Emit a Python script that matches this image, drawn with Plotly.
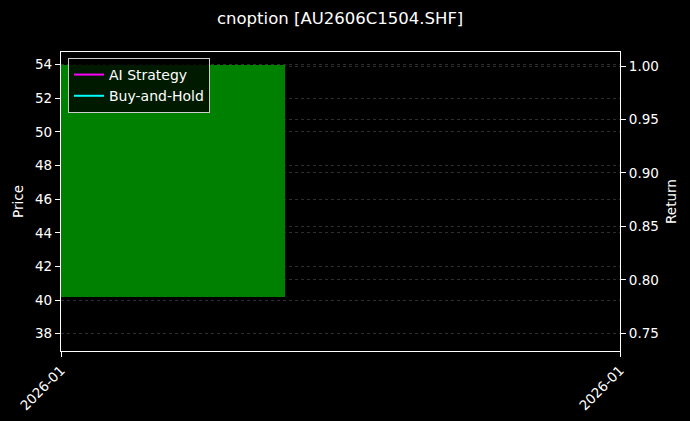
import plotly.graph_objects as go
import pandas as pd

# Data
dates = ["2026-01-05"]
open_price = [40.2]
close_price = [54.0]
ai_strategy = [1.0]
buy_hold = [1.0]
x_tick_labels = ["2026-01", "2026-01"]

title = "cnoption [AU2606C1504.SHF]"

day_ms = 86400000
bar_width = 0.8 * day_ms
center = pd.Timestamp(dates[0])
x_left = center - pd.Timedelta(hours=0.4 * 24)
x_right = x_left + pd.Timedelta(days=2)

fig = go.Figure()
fig.add_trace(go.Bar(
    x=dates, y=[c - o for o, c in zip(open_price, close_price)], base=open_price,
    width=bar_width, marker=dict(color="#008000", line=dict(width=0)),
    showlegend=False, hoverinfo="skip"))
fig.add_trace(go.Scatter(x=dates, y=ai_strategy, mode="lines", name="AI Strategy",
                         line=dict(color="#ff00ff", width=2), yaxis="y2"))
fig.add_trace(go.Scatter(x=dates, y=buy_hold, mode="lines", name="Buy-and-Hold",
                         line=dict(color="#00ffff", width=2), yaxis="y2"))

font = "DejaVu Sans"
grid = "#2e2e2e"
fig.update_layout(
    width=690, height=421,
    paper_bgcolor="#000000", plot_bgcolor="#000000",
    margin=dict(l=61, r=70, t=52, b=70, autoexpand=False),
    font=dict(family=font, color="white", size=14),
    title=dict(text=title, x=0.493, xanchor="center", y=0.957, yanchor="middle",
               font=dict(size=16.5, color="white")),
    bargap=0,
    xaxis=dict(type="date", range=[x_left, x_right], automargin=False,
               tickvals=[x_left, x_right], ticktext=x_tick_labels,
               tickangle=-45, showgrid=False, zeroline=False,
               showline=True, linecolor="white", linewidth=1.2, mirror=True,
               ticks="outside", tickcolor="white", ticklen=5,
               tickfont=dict(size=13.5, color="white")),
    yaxis=dict(range=[36.97, 54.75], dtick=2, automargin=False,
               title=dict(text="Price", standoff=8, font=dict(size=13.5)),
               showgrid=True, gridcolor=grid, griddash="dot", gridwidth=1,
               zeroline=False, showline=True, linecolor="white", linewidth=1.2,
               ticks="outside", tickcolor="white", ticklen=5,
               tickfont=dict(size=13.5, color="white")),
    yaxis2=dict(range=[0.7335, 1.0131], dtick=0.05, tickformat=".2f", overlaying="y", side="right",
                automargin=False,
                title=dict(text="Return", standoff=8, font=dict(size=13.5)),
                showgrid=True, gridcolor=grid, griddash="dot", gridwidth=1,
                zeroline=False, showline=True, linecolor="white", linewidth=1.2,
                ticks="outside", tickcolor="white", ticklen=5,
                tickfont=dict(size=13.5, color="white")),
    legend=dict(x=0.0125, y=0.98, xanchor="left", yanchor="top",
                bgcolor="rgba(0,0,0,0.8)", bordercolor="#cccccc", borderwidth=1,
                font=dict(size=14, color="white"), tracegroupgap=0),
    showlegend=True,
)

fig.write_html("out.html", config={"displayModeBar": False},
               post_script="document.body.style.margin='0';document.body.style.background='#000';")
